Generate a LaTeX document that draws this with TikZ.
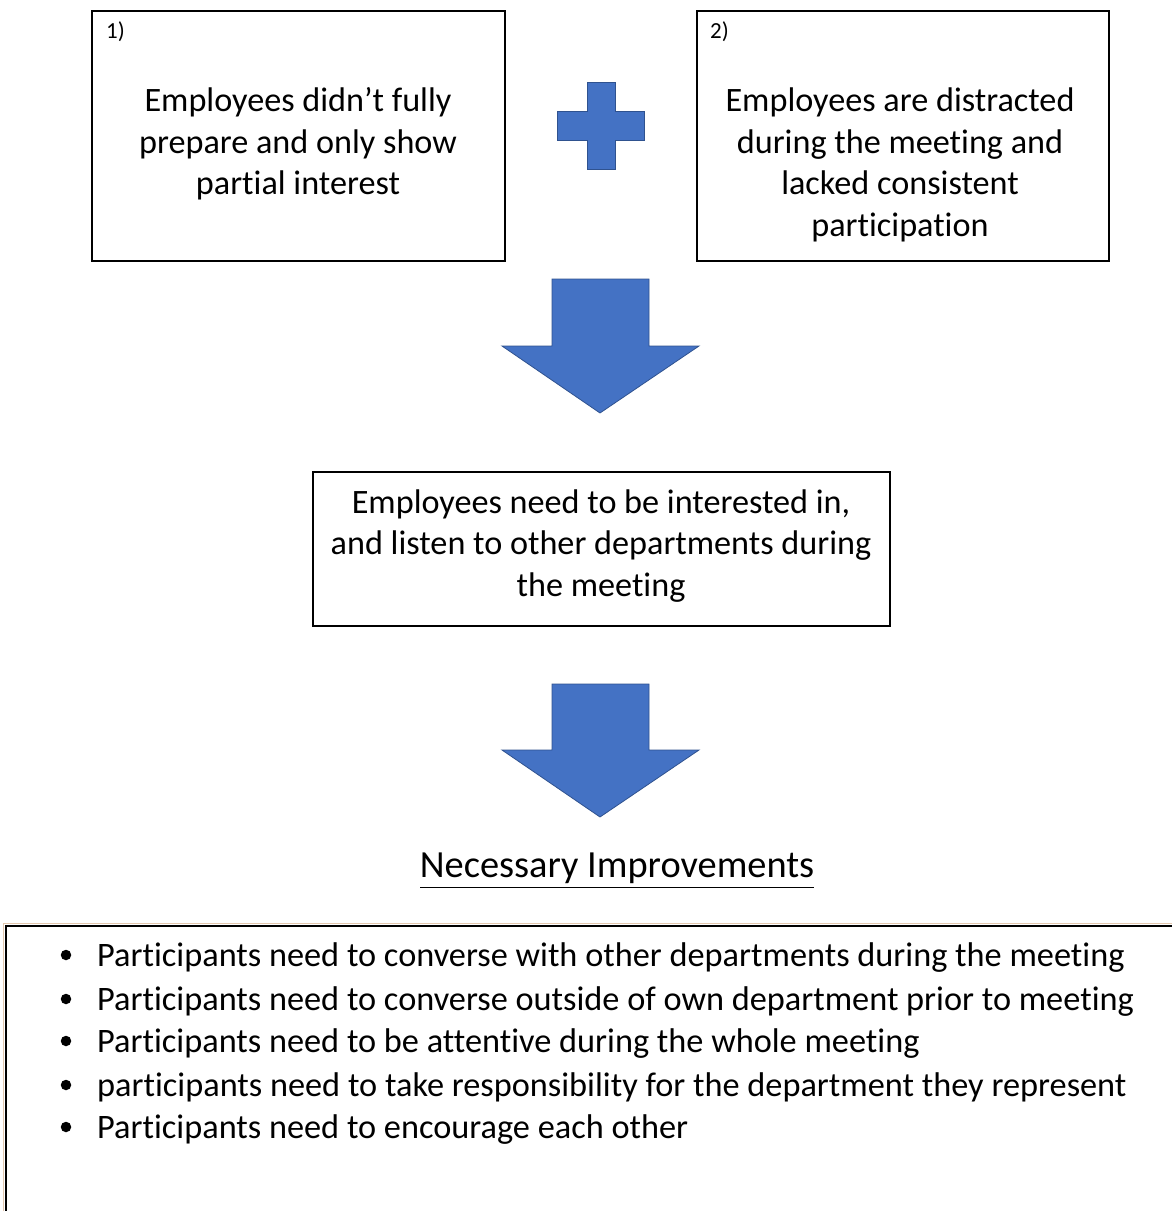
\documentclass[tikz,border=0pt]{standalone}
\usepackage{fontspec}
\setmainfont{Carlito}[Ligatures=NoCommon]
\definecolor{obl}{HTML}{4472C4}
\definecolor{obd}{HTML}{2F528F}
\definecolor{tan}{HTML}{E2C7AE}
\tikzset{
  box/.style={draw=black, line width=1.6pt},
  txt/.style={align=center, font=\fontsize{34.2}{41.5}\selectfont, inner sep=0pt},
  head/.style={font=\fontsize{38.4}{44}\selectfont, inner sep=0pt, anchor=base},
  lbl/.style={font=\fontsize{23}{27}\selectfont, inner sep=0pt, anchor=west},
  blue/.style={fill=obl, draw=obd, line width=0.8pt},
  item/.style={font=\fontsize{34.3}{41.5}\selectfont, inner sep=0pt, anchor=base west},
  dot/.style={circle, fill=black, inner sep=0pt, minimum size=10.5pt}
}
\begin{document}
\begin{tikzpicture}[x=1pt,y=-1pt]
\useasboundingbox (0,0) rectangle (1172,1211);
% top boxes
\draw[box] (92,11) rectangle (505,261);
\node[lbl] (l1) at (106,32) {1)};
\node[txt] (t1) at (298,144) {Employees didn’t fully\\prepare and only show\\partial interest};
\draw[box] (697,11) rectangle (1109,261);
\node[lbl] (l2) at (710,32) {2)};
\node[txt] (t2) at (900,165) {Employees are distracted\\during the meeting and\\lacked consistent\\participation};
% plus
\draw[blue] (587,82) -- (615,82) -- (615,111) -- (644,111) -- (644,140) -- (615,140) -- (615,169) -- (587,169) -- (587,140) -- (557,140) -- (557,111) -- (587,111) -- cycle;
% arrow 1
\draw[blue] (552,279) -- (649,279) -- (649,346) -- (699,346) -- (600,413) -- (502,346) -- (552,346) -- cycle;
% middle box
\draw[box] (313,472) rectangle (890,626);
\node[txt] (t3) at (601,546) {Employees need to be interested in,\\and listen to other departments during\\the meeting};
% arrow 2
\draw[blue] (552,684) -- (649,684) -- (649,750) -- (699,750) -- (600,817) -- (502,750) -- (552,750) -- cycle;
% heading
\node[head] (h) at (617,877) {Necessary Improvements};
\draw[line width=1.4pt] (420,887.5) -- (814,887.5);
% bottom box
\draw[tan, line width=1.6pt] (1180,923.5) -- (3.5,923.5) -- (3.5,1220);
\draw[black, line width=1.8pt] (1180,926) -- (6,926) -- (6,1220);
% bullets
\foreach \y/\t [count=\i] in {966/Participants need to converse with other departments during the meeting,
  1010/Participants need to converse outside of own department prior to meeting,
  1052/Participants need to be attentive during the whole meeting,
  1096/participants need to take responsibility for the department they represent,
  1138/Participants need to encourage each other} {
  \node[dot] (d\i) at (66,\y-11) {};
  \node[item] (b\i) at (97,\y) {\t};
}
\end{tikzpicture}
\end{document}
